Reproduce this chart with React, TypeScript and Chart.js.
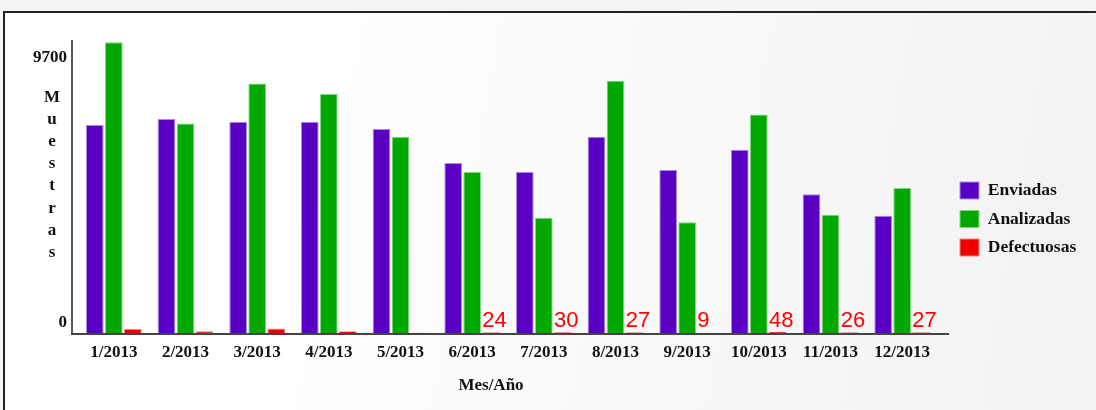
import React, { useEffect, useRef } from 'react';
import { Chart, registerables } from 'chart.js';

Chart.register(...registerables);

// ---- data ----
const months = ['1/2013', '2/2013', '3/2013', '4/2013', '5/2013', '6/2013', '7/2013', '8/2013', '9/2013', '10/2013', '11/2013', '12/2013'];
const enviadas = [7594, 7814, 7715, 7715, 7448, 6205, 5876, 7166, 5949, 6691, 5071, 4278];
const analizadas = [10614, 7653, 9115, 8728, 7166, 5876, 4205, 9214, 4048, 7982, 4314, 5291];
const defectuosas = [150, 60, 160, 65, 12, 24, 30, 27, 9, 48, 26, 27];
const showDefectLabel = [false, false, false, false, false, true, true, true, true, true, true, true];
const seriesNames = ['Enviadas', 'Analizadas', 'Defectuosas'];
const yTickValues = [0, 9700];
const yMax = 10700;
const yTitleLetters = ['M', 'u', 'e', 's', 't', 'r', 'a', 's'];
const xTitle = 'Mes/Año';

const SERIF = "'Liberation Serif', 'Times New Roman', serif";
const SANS = "'Liberation Sans', Arial, sans-serif";
const TEXT = '#111111';

const decorPlugin = {
  id: 'decor',
  afterInit(chart: any) {
    const legend = chart.legend;
    if (legend && !legend.__wrapped) {
      const orig = legend.fit;
      legend.fit = function () {
        orig.call(this);
        this.width = 141;
      };
      legend.__wrapped = true;
    }
  },
  afterDraw(chart: any) {
    const { ctx, chartArea } = chart;
    const { left, right, top, bottom } = chartArea;
    ctx.save();
    // axis lines
    ctx.strokeStyle = '#222';
    ctx.lineWidth = 1.5;
    ctx.beginPath();
    ctx.moveTo(left - 6, top);
    ctx.lineTo(left - 6, bottom + 1.5);
    ctx.stroke();
    ctx.strokeStyle = '#444';
    ctx.lineWidth = 2;
    ctx.beginPath();
    ctx.moveTo(left - 7, bottom + 1);
    ctx.lineTo(right + 11, bottom + 1);
    ctx.stroke();

    // y title, stacked letters
    ctx.fillStyle = TEXT;
    ctx.font = `bold 17px ${SERIF}`;
    ctx.textAlign = 'center';
    ctx.textBaseline = 'alphabetic';
    yTitleLetters.forEach((ch, i) => {
      ctx.fillText(ch, left - 26, top + 62 + i * 22.1);
    });

    // x title
    ctx.fillText(xTitle, (left + right) / 2 - 17, bottom + 57);

    // defect labels
    const meta = chart.getDatasetMeta(2);
    ctx.font = `22px ${SANS}`;
    ctx.fillStyle = '#ff0000';
    ctx.textAlign = 'left';
    meta.data.forEach((bar: any, i: number) => {
      if (!showDefectLabel[i]) return;
      const x = bar.x - bar.width / 2;
      ctx.fillText(String(defectuosas[i]), x, bar.base - 6);
    });
    ctx.restore();
  },
};

export default function App() {
  const ref = useRef<HTMLCanvasElement | null>(null);

  useEffect(() => {
    if (!ref.current) return;
    const chart = new Chart(ref.current, {
      type: 'bar',
      data: {
        labels: months,
        datasets: [
          {
            label: seriesNames[0],
            data: enviadas,
            backgroundColor: '#5a00c4',
            borderColor: '#a98be6',
            borderWidth: 1,
          },
          {
            label: seriesNames[1],
            data: analizadas,
            backgroundColor: '#00a800',
            borderColor: '#84d884',
            borderWidth: 1,
          },
          {
            label: seriesNames[2],
            data: defectuosas,
            backgroundColor: '#ee0000',
            borderColor: '#f28080',
            borderWidth: 1,
          },
        ],
      },
      options: {
        responsive: false,
        animation: false,
        datasets: {
          bar: { categoryPercentage: 0.796, barPercentage: 0.93 },
        },
        layout: { padding: { top: 40, bottom: 12, left: 0, right: 6 } },
        scales: {
          x: {
            offset: true,
            grid: { display: false, drawTicks: false },
            border: { display: false },
            ticks: {
              padding: 9,
              maxRotation: 0,
              autoSkip: false,
              color: TEXT,
              font: { family: SERIF, size: 17, weight: 'bold' },
            },
            afterFit: (s: any) => {
              s.height = 65;
            },
          },
          y: {
            min: 0,
            max: yMax,
            grid: { display: false, drawTicks: false },
            border: { display: false },
            afterBuildTicks: (s: any) => {
              s.ticks = yTickValues.map((v) => ({ value: v }));
            },
            ticks: {
              padding: 11,
              labelOffset: -10,
              color: TEXT,
              font: { family: SERIF, size: 17, weight: 'bold' },
              callback: (v: any) => String(v),
            },
            afterFit: (s: any) => {
              s.width = 78;
            },
          },
          y2: {
            position: 'right',
            display: true,
            grid: { display: false, drawTicks: false },
            border: { display: false },
            ticks: { display: false },
            afterFit: (s: any) => {
              s.width = 11;
            },
          },
        },
        plugins: {
          legend: {
            position: 'right',
            labels: {
              boxWidth: 19,
              boxHeight: 17,
              padding: 11,
              color: TEXT,
              font: { family: SERIF, size: 17.5, weight: 'bold' },
            },
          },
          tooltip: { enabled: false },
        },
      },
      plugins: [decorPlugin],
    } as any);
    return () => chart.destroy();
  }, []);

  return (
    <div style={{ position: 'fixed', left: 0, top: 0, width: 1096, height: 410, overflow: 'hidden', background: '#f4f4f4' }}>
      <div
        style={{
          position: 'absolute',
          left: 3,
          top: 11,
          width: 1200,
          height: 500,
          border: '2px solid #222',
          background: 'linear-gradient(100deg, #ffffff 25%, #f2f2f2 90%)',
        }}
      />
      <canvas
        ref={ref}
        width={1096}
        height={410}
        style={{ position: 'absolute', left: 0, top: 0, width: 1096, height: 410, display: 'block' }}
      />
    </div>
  );
}
